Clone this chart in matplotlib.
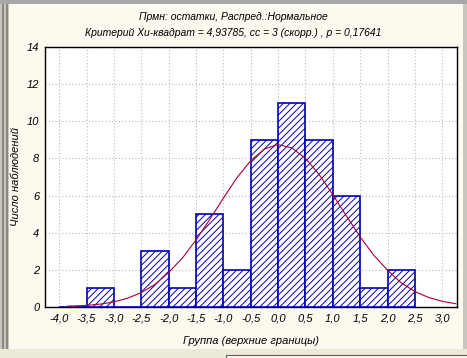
import numpy as np
import matplotlib
matplotlib.use('Agg')
import matplotlib.pyplot as plt
from matplotlib.patches import Rectangle

# histogram: upper bounds of the groups and counts
edges = [-4.0, -3.5, -3.0, -2.5, -2.0, -1.5, -1.0, -0.5, 0.0, 0.5, 1.0, 1.5, 2.0, 2.5]
counts = [0, 1, 0, 3, 1, 5, 2, 9, 11, 9, 6, 1, 2]

# expected normal curve
curve_x = [-3.85, -3.75, -3.5, -3.25, -3.0, -2.75, -2.5, -2.25, -2.0, -1.75, -1.5, -1.25,
           -1.0, -0.75, -0.5, -0.25, 0.0, 0.25, 0.5, 0.75, 1.0, 1.25, 1.5, 1.75,
           2.0, 2.25, 2.5, 2.75, 3.0, 3.25]
curve_y = [0.03, 0.04, 0.07, 0.14, 0.26, 0.46, 0.76, 1.20, 1.85, 2.62, 3.60, 4.70,
           5.86, 6.97, 7.88, 8.51, 8.75, 8.57, 8.01, 7.13, 6.05, 4.89, 3.77, 2.77,
           1.97, 1.29, 0.82, 0.50, 0.29, 0.16]

xticks = [-4.0, -3.5, -3.0, -2.5, -2.0, -1.5, -1.0, -0.5, 0.0, 0.5, 1.0, 1.5, 2.0, 2.5, 3.0]
yticks = [0, 2, 4, 6, 8, 10, 12, 14]

plt.rcParams['font.family'] = ['Liberation Sans', 'DejaVu Sans']
plt.rcParams['font.style'] = 'italic'
plt.rcParams['font.size'] = 8
plt.rcParams['hatch.linewidth'] = 0.7

fig = plt.figure(figsize=(4.67, 3.58), dpi=100)
fig.patch.set_facecolor('#fcf9ee')

# window frame bits
fig.patches.append(Rectangle((0, 0), 9 / 467, 1, transform=fig.transFigure,
                             facecolor='#c8c6be', edgecolor='none', zorder=0))
fig.patches.append(Rectangle((2 / 467, 0), 2 / 467, 1, transform=fig.transFigure,
                             facecolor='#8a8880', edgecolor='none', zorder=0))
fig.patches.append(Rectangle((6 / 467, 0), 1.5 / 467, 1, transform=fig.transFigure,
                             facecolor='#8a8880', edgecolor='none', zorder=0))
fig.patches.append(Rectangle((463 / 467, 0), 4 / 467, 1, transform=fig.transFigure,
                             facecolor='#c8c6be', edgecolor='none', zorder=0))
fig.patches.append(Rectangle((0, 0.99), 1, 0.01, transform=fig.transFigure,
                             facecolor='#a8a8a8', edgecolor='none', zorder=0))
fig.patches.append(Rectangle((0, 0), 1, 9 / 358, transform=fig.transFigure,
                             facecolor='#ece9d8', edgecolor='none', zorder=1))
fig.patches.append(Rectangle((226 / 467, -0.01), 0.6, 7 / 358, transform=fig.transFigure,
                             facecolor='#f6f6f2', edgecolor='#606060', linewidth=0.8, zorder=2))

ax = fig.add_axes([45 / 467, 51.3 / 358, 412 / 467, 259.4 / 358])
ax.set_facecolor('white')

widths = np.diff(edges)
ax.bar(edges[:-1], counts, width=widths, align='edge', facecolor='white',
       edgecolor='#0000b4', hatch='/////', linewidth=1.2, zorder=3)
ax.plot(curve_x, curve_y, color='#a8002e', linewidth=0.8, zorder=4)

ax.set_xlim(-4.26, 3.27)
ax.set_ylim(0, 14)
ax.set_xticks(xticks)
ax.set_xticklabels([('%.1f' % t).replace('.', ',') for t in xticks])
ax.set_yticks(yticks)
ax.tick_params(axis='both', length=0, pad=5)
ax.tick_params(axis='y', pad=4)
ax.grid(True, color='#b8b8b8', linestyle=(0, (1, 2)), linewidth=0.8, zorder=0)
ax.set_axisbelow(True)
for s in ax.spines.values():
    s.set_color('black')
    s.set_linewidth(1.0)

ax.set_xlabel('Группа (верхние границы)', labelpad=9)
ax.set_ylabel('Число наблюдений')
ax.yaxis.set_label_coords(-24 / 412, 0.5)

fig.text(0.5, 1 - 17 / 358, 'Прмн: остатки, Распред.:Нормальное', ha='center', va='center',
         fontsize=7.5)
fig.text(0.5, 1 - 33 / 358, 'Критерий Хи-квадрат = 4,93785, cc = 3 (скорр.) , p = 0,17641',
         ha='center', va='center', fontsize=7.5)

fig.savefig('out.png', dpi=100, facecolor=fig.get_facecolor())
